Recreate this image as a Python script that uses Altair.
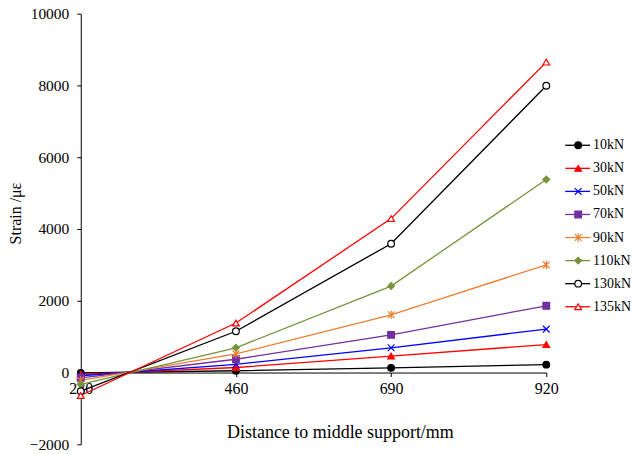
import altair as alt
import pandas as pd

# ---- data ----
distance = [230, 460, 690, 920]
series = ["10kN", "30kN", "50kN", "70kN", "90kN", "110kN", "130kN", "135kN"]
s10 = [-10, 50, 130, 220]
s30 = [-50, 140, 460, 780]
s50 = [-90, 230, 690, 1210]
s70 = [-150, 370, 1050, 1860]
s90 = [-220, 520, 1610, 3000]
s110 = [-330, 690, 2410, 5380]
s130 = [-520, 1150, 3590, 7990]
s135 = [-640, 1380, 4290, 8650]
y_ticks = [-2000, 0, 2000, 4000, 6000, 8000, 10000]

# ---- styles ----
colors = ["#000000", "#FF0000", "#0000FF", "#7030A0", "#ED7D31", "#77933C", "#000000", "#FF0000"]
fills = ["#000000", "#FF0000", "#0000FF", "#7030A0", "#ED7D31", "#77933C", "#FFFFFF", "#FFFFFF"]
XPATH = "M-1,-1L1,1M-1,1L1,-1"
STAR = "M-1,-1L1,1M-1,1L1,-1M0,-1.3L0,1.3"
shapes = ["circle", "triangle-up", XPATH, "square", STAR, "diamond", "circle", "triangle-up"]

all_vals = [s10, s30, s50, s70, s90, s110, s130, s135]
rows = []
for name, vals in zip(series, all_vals):
    for d, v in zip(distance, vals):
        rows.append({"series": name, "distance": d, "strain": v})
df = pd.DataFrame(rows)
leg = pd.DataFrame({"series": series})

W, H = 467, 432
FONT = "Liberation Serif"

color_scale = alt.Scale(domain=series, range=colors)
fill_scale = alt.Scale(domain=series, range=fills)
shape_scale = alt.Scale(domain=series, range=shapes)

x_enc = alt.X(
    "distance:Q",
    scale=alt.Scale(domain=[230, 920], nice=False, zero=False),
    axis=alt.Axis(
        values=distance, format="d", offset=-72, grid=False,
        title="Distance to middle support/mm",
        labelFontSize=16, titleFontSize=18, titleFontWeight="normal",
        tickSize=4, labelPadding=4, labelFlush=False,
        titleX=260, titleY=60, titleAlign="center", titleBaseline="middle",
    ),
)
y_enc = alt.Y(
    "strain:Q",
    scale=alt.Scale(domain=[-2000, 10000], nice=False, zero=False),
    axis=alt.Axis(
        values=y_ticks, format="d", grid=False,
        title="Strain /με",
        labelFontSize=15.5, titleFontSize=16, titleFontWeight="normal",
        tickSize=4, labelPadding=8,
        titleAngle=270, titleX=-65, titleY=200, titleAlign="center", titleBaseline="middle",
    ),
)

lines = alt.Chart(df).mark_line(strokeWidth=1.3).encode(
    x=x_enc, y=y_enc,
    color=alt.Color("series:N", scale=color_scale, legend=None),
)
points = alt.Chart(df).mark_point(filled=True, opacity=1, size=45, strokeWidth=1.2).encode(
    x=x_enc, y=y_enc,
    shape=alt.Shape("series:N", scale=shape_scale, legend=None),
    stroke=alt.Stroke("series:N", scale=color_scale, legend=None),
    fill=alt.Fill("series:N", scale=fill_scale, legend=None),
)
main = alt.layer(lines, points)

leg_y = alt.Y("series:N", scale=alt.Scale(type="point", domain=series, range=[132, 294], padding=0), axis=None)
leg_rule = alt.Chart(leg).mark_rule(strokeWidth=1.3).encode(
    x=alt.value(486), x2=alt.value(511), y=leg_y,
    color=alt.Color("series:N", scale=color_scale, legend=None),
)
leg_pts = alt.Chart(leg).mark_point(filled=True, opacity=1, size=45, strokeWidth=1.2).encode(
    x=alt.value(499), y=leg_y,
    shape=alt.Shape("series:N", scale=shape_scale, legend=None),
    stroke=alt.Stroke("series:N", scale=color_scale, legend=None),
    fill=alt.Fill("series:N", scale=fill_scale, legend=None),
)
leg_txt = alt.Chart(leg).mark_text(align="left", baseline="middle", font=FONT, fontSize=14, color="black").encode(
    x=alt.value(514), y=leg_y, text="series:N",
)
legend = alt.layer(leg_rule, leg_pts, leg_txt)

chart = (
    alt.layer(main, legend)
    .resolve_scale(y="independent")
    .properties(width=W, height=H, padding={"left": 8, "top": 6, "right": 0, "bottom": 0}, background="white")
    .configure_view(stroke=None)
    .configure_axis(
        domainColor="black", tickColor="black", labelColor="black", titleColor="black",
        labelFont=FONT, titleFont=FONT, domainWidth=1, tickWidth=1,
    )
)

chart.save("out.html", embed_options={"renderer": "svg", "actions": False})
